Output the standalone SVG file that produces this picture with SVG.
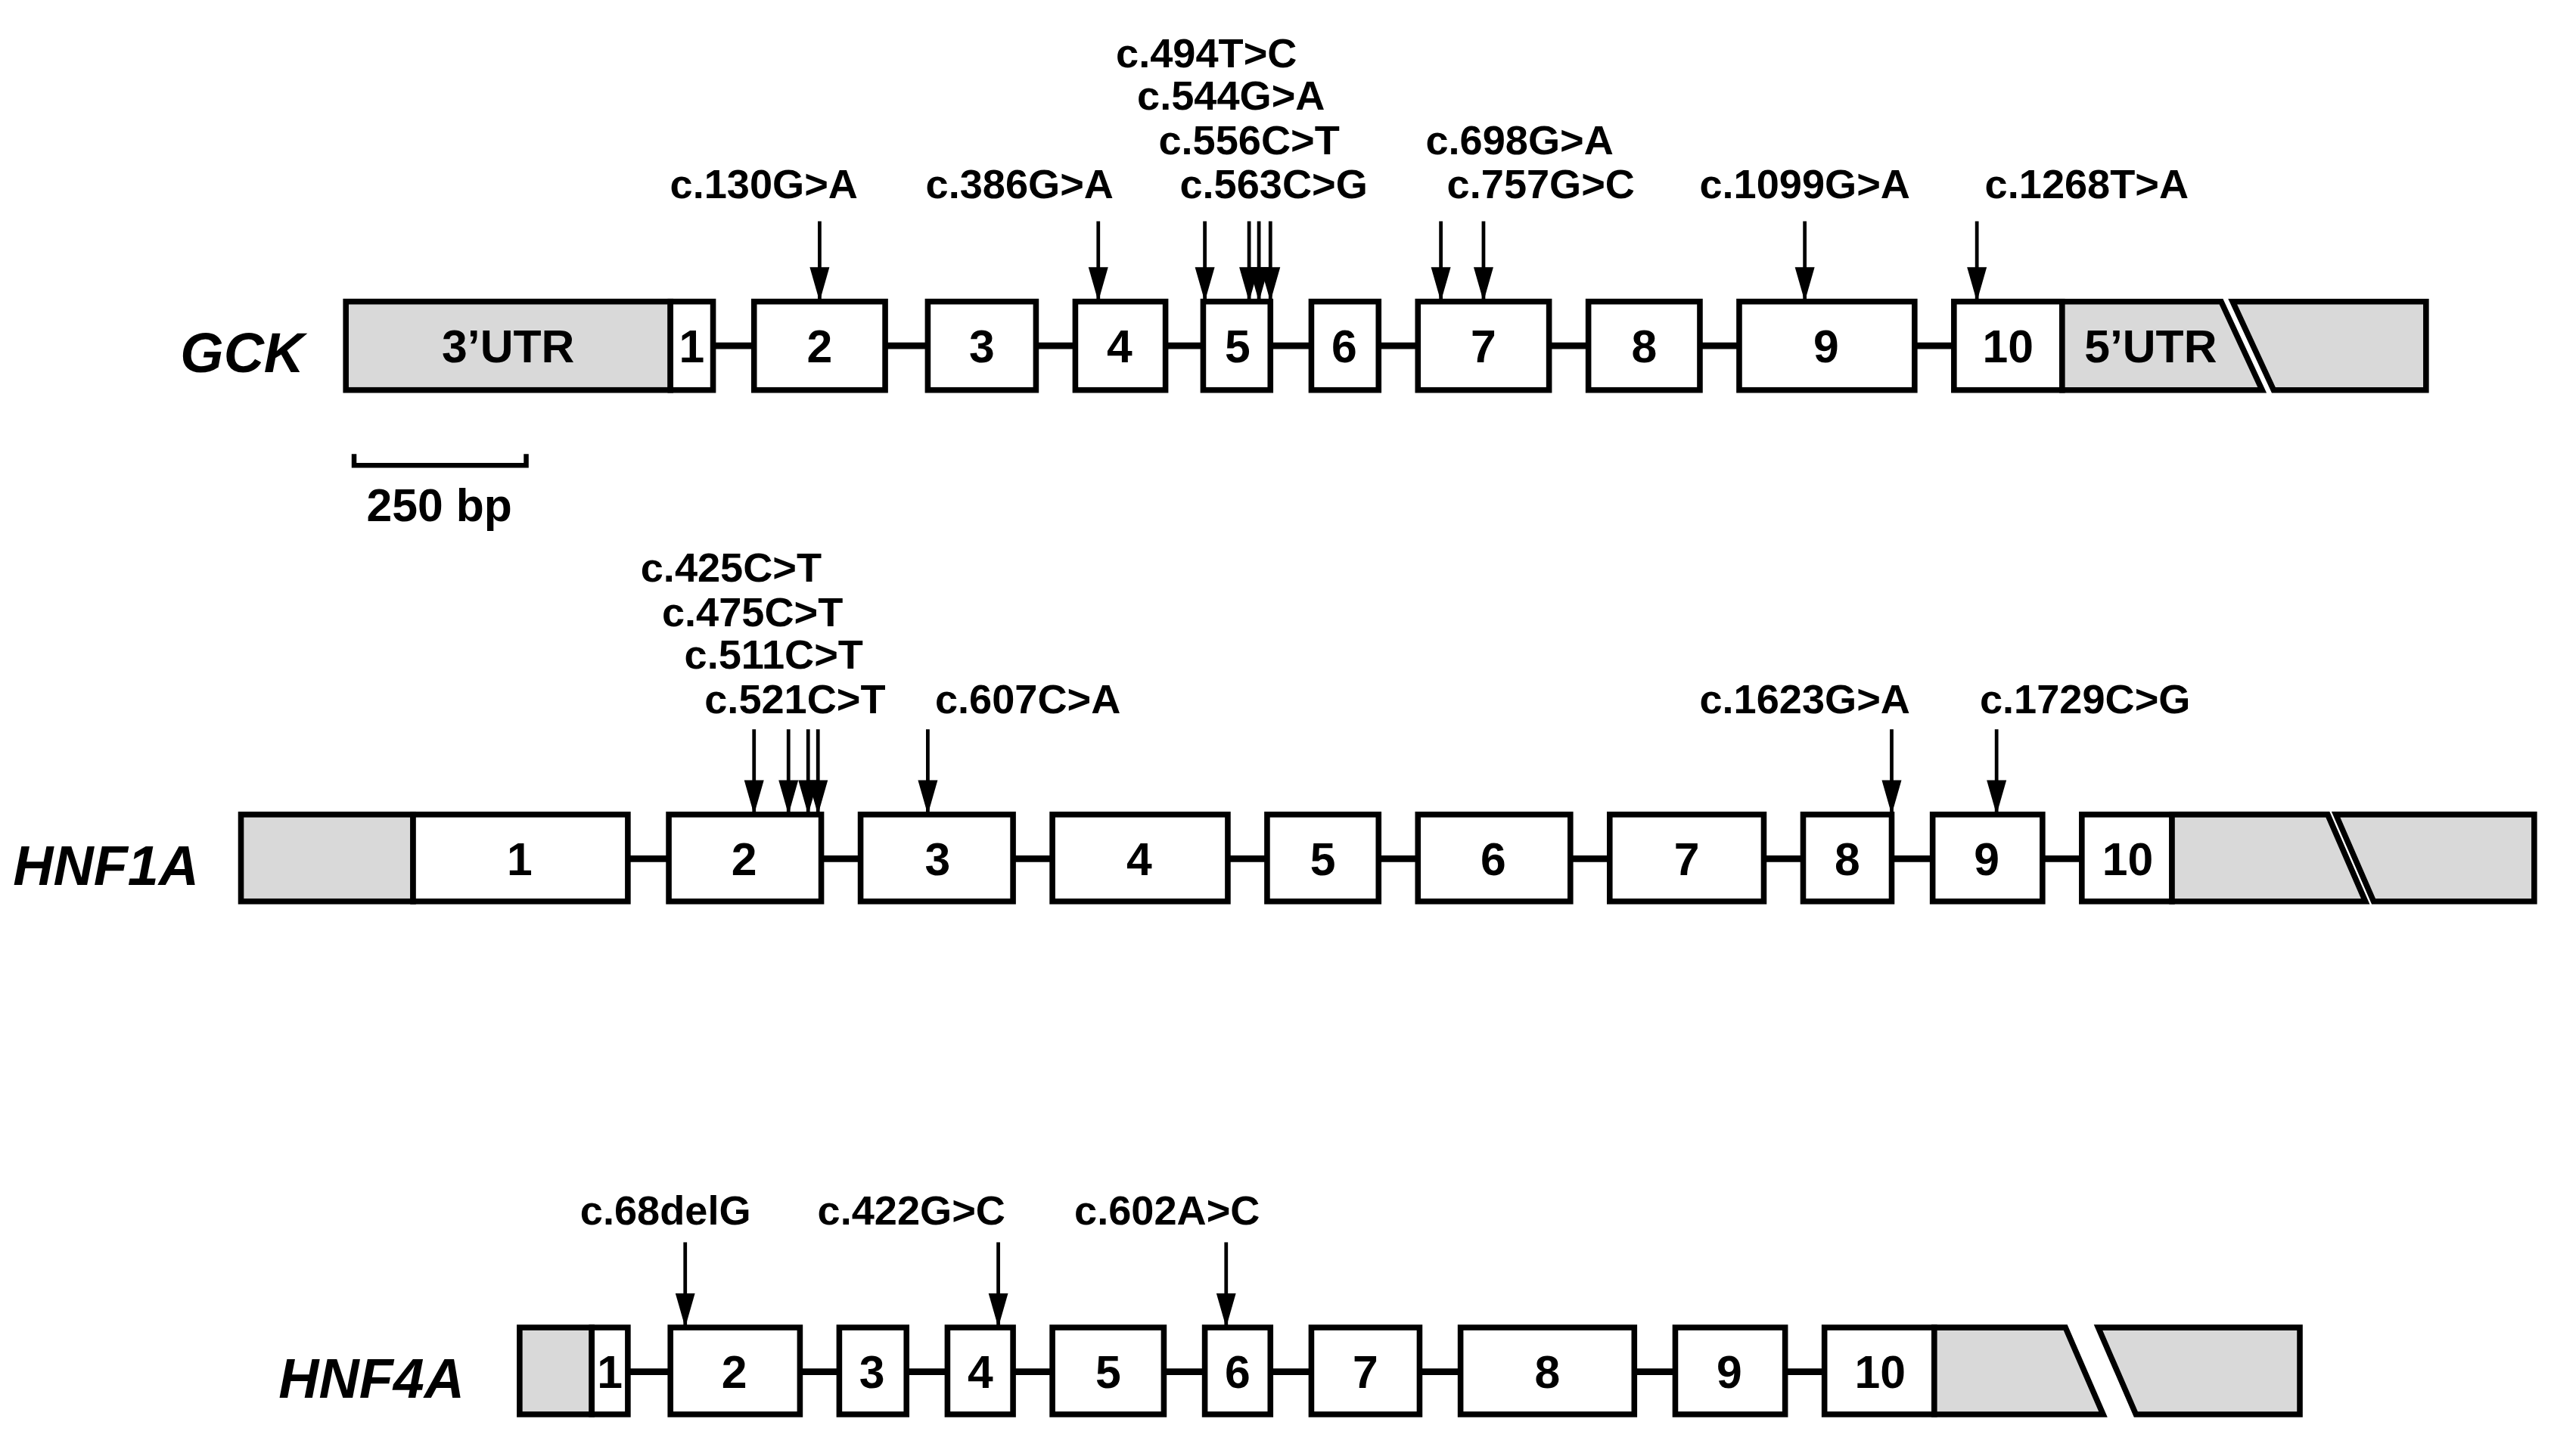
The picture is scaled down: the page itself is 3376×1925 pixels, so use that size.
<svg xmlns="http://www.w3.org/2000/svg" width="3376" height="1925" viewBox="0 0 3376 1925">
<defs>
<style>
.ex{fill:#fff;stroke:#000;stroke-width:3.5}
.utr{fill:#d9d9d9;stroke:#000;stroke-width:3.5}
.in{stroke:#000;stroke-width:4}
.ar{stroke:#000;stroke-width:2.2;marker-end:url(#ah)}
.t{font-family:"Liberation Sans",Arial,sans-serif;font-weight:bold;font-size:25px;text-anchor:middle}
.n{font-family:"Liberation Sans",Arial,sans-serif;font-weight:bold;font-size:28px;text-anchor:middle}
.g{font-family:"Liberation Sans",Arial,sans-serif;font-weight:bold;font-style:italic;font-size:34px}
</style>
<marker id="ah" viewBox="0 -7 22 14" refX="21" refY="0" markerWidth="22" markerHeight="14" markerUnits="userSpaceOnUse" orient="auto"><path d="M0,-6 L21,0 L0,6 z" fill="#000"/></marker>
</defs>
<rect width="3376" height="1925" fill="#fff"/>
<g transform="scale(2.1668)">
<g id="connectors">
<line class="in" x1="435" y1="211" x2="1192" y2="211"/>
<line class="in" x1="383" y1="524" x2="1270" y2="524"/>
<line class="in" x1="383" y1="837" x2="1113" y2="837"/>
<line class="ar" x1="500" y1="135" x2="500" y2="184"/>
<line class="ar" x1="670" y1="135" x2="670" y2="184"/>
<line class="ar" x1="735" y1="135" x2="735" y2="184"/>
<line class="ar" x1="762" y1="135" x2="762" y2="184"/>
<line class="ar" x1="768" y1="135" x2="768" y2="184"/>
<line class="ar" x1="775" y1="135" x2="775" y2="184"/>
<line class="ar" x1="879" y1="135" x2="879" y2="184"/>
<line class="ar" x1="905" y1="135" x2="905" y2="184"/>
<line class="ar" x1="1101" y1="135" x2="1101" y2="184"/>
<line class="ar" x1="1206" y1="135" x2="1206" y2="184"/>
<line class="ar" x1="460" y1="445" x2="460" y2="497"/>
<line class="ar" x1="481" y1="445" x2="481" y2="497"/>
<line class="ar" x1="493" y1="445" x2="493" y2="497"/>
<line class="ar" x1="499" y1="445" x2="499" y2="497"/>
<line class="ar" x1="566" y1="445" x2="566" y2="497"/>
<line class="ar" x1="1154" y1="445" x2="1154" y2="497"/>
<line class="ar" x1="1218" y1="445" x2="1218" y2="497"/>
<line class="ar" x1="418" y1="758" x2="418" y2="810"/>
<line class="ar" x1="609" y1="758" x2="609" y2="810"/>
<line class="ar" x1="748" y1="758" x2="748" y2="810"/>
</g>
<g id="gck">
<text class="g" x="110" y="227">GCK</text>
<rect class="utr" x="211" y="184" width="198" height="54"/><text class="n" x="310" y="221">3’UTR</text>
<rect class="ex" x="409" y="184" width="26" height="54"/><text class="n" x="422" y="221">1</text>
<rect class="ex" x="460" y="184" width="80" height="54"/><text class="n" x="500" y="221">2</text>
<rect class="ex" x="566" y="184" width="66" height="54"/><text class="n" x="599" y="221">3</text>
<rect class="ex" x="656" y="184" width="55" height="54"/><text class="n" x="683" y="221">4</text>
<rect class="ex" x="734" y="184" width="41" height="54"/><text class="n" x="755" y="221">5</text>
<rect class="ex" x="800" y="184" width="41" height="54"/><text class="n" x="820" y="221">6</text>
<rect class="ex" x="865" y="184" width="80" height="54"/><text class="n" x="905" y="221">7</text>
<rect class="ex" x="969" y="184" width="68" height="54"/><text class="n" x="1003" y="221">8</text>
<rect class="ex" x="1061" y="184" width="107" height="54"/><text class="n" x="1114" y="221">9</text>
<rect class="ex" x="1192" y="184" width="66" height="54"/><text class="n" x="1225" y="221">10</text>
<path class="utr" d="M1258,184 L1355,184 L1380,238 L1258,238 z"/><text class="n" x="1312" y="221">5’UTR</text>
<path class="utr" d="M1362,184 L1480,184 L1480,238 L1387,238 z"/>
<text class="t" x="466" y="121">c.130G&gt;A</text>
<text class="t" x="622" y="121">c.386G&gt;A</text>
<text class="t" x="777" y="121">c.563C&gt;G</text>
<text class="t" x="940" y="121">c.757G&gt;C</text>
<text class="t" x="1101" y="121">c.1099G&gt;A</text>
<text class="t" x="1273" y="121">c.1268T&gt;A</text>
<text class="t" x="762" y="94">c.556C&gt;T</text>
<text class="t" x="927" y="94">c.698G&gt;A</text>
<text class="t" x="751" y="67">c.544G&gt;A</text>
<text class="t" x="736" y="41">c.494T&gt;C</text>
</g>
<g id="scalebar">
<path d="M216,277 L216,284 L321,284 L321,277" fill="none" stroke="#000" stroke-width="3"/>
<text class="n" x="268" y="318">250 bp</text>
</g>
<g id="hnf1a">
<text class="g" x="8" y="540">HNF1A</text>
<rect class="utr" x="147" y="497" width="105" height="53"/>
<rect class="ex" x="252" y="497" width="131" height="53"/><text class="n" x="317" y="534">1</text>
<rect class="ex" x="408" y="497" width="93" height="53"/><text class="n" x="454" y="534">2</text>
<rect class="ex" x="525" y="497" width="93" height="53"/><text class="n" x="572" y="534">3</text>
<rect class="ex" x="642" y="497" width="107" height="53"/><text class="n" x="695" y="534">4</text>
<rect class="ex" x="773" y="497" width="68" height="53"/><text class="n" x="807" y="534">5</text>
<rect class="ex" x="865" y="497" width="93" height="53"/><text class="n" x="911" y="534">6</text>
<rect class="ex" x="982" y="497" width="94" height="53"/><text class="n" x="1029" y="534">7</text>
<rect class="ex" x="1100" y="497" width="54" height="53"/><text class="n" x="1127" y="534">8</text>
<rect class="ex" x="1179" y="497" width="67" height="53"/><text class="n" x="1212" y="534">9</text>
<rect class="ex" x="1270" y="497" width="55" height="53"/><text class="n" x="1298" y="534">10</text>
<path class="utr" d="M1325,497 L1420,497 L1443,550 L1325,550 z"/>
<path class="utr" d="M1425,497 L1546,497 L1546,550 L1448,550 z"/>
<text class="t" x="485" y="435">c.521C&gt;T</text>
<text class="t" x="627" y="435">c.607C&gt;A</text>
<text class="t" x="1101" y="435">c.1623G&gt;A</text>
<text class="t" x="1272" y="435">c.1729C&gt;G</text>
<text class="t" x="472" y="408">c.511C&gt;T</text>
<text class="t" x="459" y="382">c.475C&gt;T</text>
<text class="t" x="446" y="355">c.425C&gt;T</text>
</g>
<g id="hnf4a">
<text class="g" x="170" y="853">HNF4A</text>
<rect class="utr" x="317" y="810" width="44" height="53"/>
<rect class="ex" x="361" y="810" width="22" height="53"/><text class="n" x="372" y="847">1</text>
<rect class="ex" x="409" y="810" width="79" height="53"/><text class="n" x="448" y="847">2</text>
<rect class="ex" x="512" y="810" width="41" height="53"/><text class="n" x="532" y="847">3</text>
<rect class="ex" x="578" y="810" width="40" height="53"/><text class="n" x="598" y="847">4</text>
<rect class="ex" x="642" y="810" width="68" height="53"/><text class="n" x="676" y="847">5</text>
<rect class="ex" x="735" y="810" width="40" height="53"/><text class="n" x="755" y="847">6</text>
<rect class="ex" x="800" y="810" width="66" height="53"/><text class="n" x="833" y="847">7</text>
<rect class="ex" x="891" y="810" width="106" height="53"/><text class="n" x="944" y="847">8</text>
<rect class="ex" x="1022" y="810" width="67" height="53"/><text class="n" x="1055" y="847">9</text>
<rect class="ex" x="1113" y="810" width="67" height="53"/><text class="n" x="1147" y="847">10</text>
<path class="utr" d="M1180,810 L1260,810 L1283,863 L1180,863 z"/>
<path class="utr" d="M1280,810 L1403,810 L1403,863 L1303,863 z"/>
<text class="t" x="406" y="747">c.68delG</text>
<text class="t" x="556" y="747">c.422G&gt;C</text>
<text class="t" x="712" y="747">c.602A&gt;C</text>
</g>
</g>
</svg>
